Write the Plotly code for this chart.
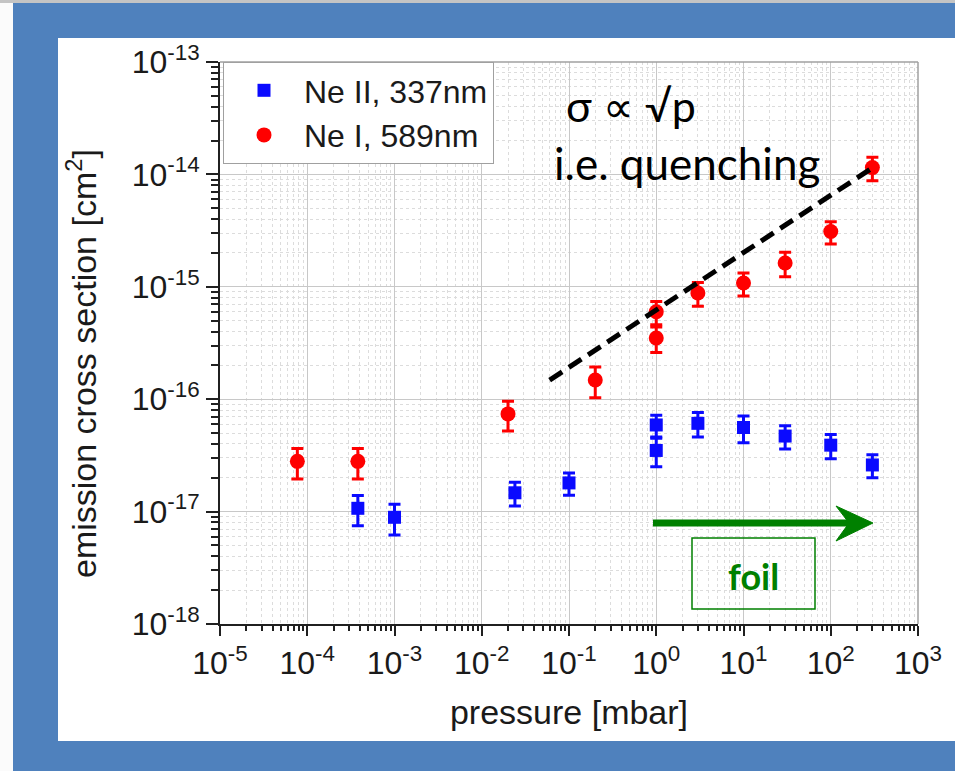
import plotly.graph_objects as go

# ---------------- data ----------------
p_ne2 = [3.8e-4, 1.0e-3, 0.024, 0.1, 1.0, 1.0, 3.0, 10.0, 30.0, 100.0, 300.0]
s_ne2 = [1.07e-17, 8.9e-18, 1.47e-17, 1.8e-17, 5.9e-17, 3.5e-17, 6.1e-17, 5.6e-17, 4.7e-17, 3.9e-17, 2.6e-17]
e_ne2 = [3.2e-18, 2.7e-18, 3.5e-18, 4.0e-18, 1.3e-17, 1.0e-17, 1.5e-17, 1.5e-17, 1.1e-17, 0.95e-17, 0.6e-17]

p_ne1 = [7.7e-5, 3.8e-4, 0.02, 0.2, 1.0, 1.0, 3.0, 10.0, 30.0, 100.0, 300.0]
s_ne1 = [2.8e-17, 2.8e-17, 7.4e-17, 1.48e-16, 6.0e-16, 3.5e-16, 8.8e-16, 1.08e-15, 1.63e-15, 3.1e-15, 1.15e-14]
e_ne1 = [0.85e-17, 0.85e-17, 2.2e-17, 4.5e-17, 1.4e-16, 0.9e-16, 2.1e-16, 2.5e-16, 4.0e-16, 7.0e-16, 2.7e-15]

fit_p = [0.06, 330.0]
fit_s = [1.48e-16, 1.2e-14]

x_ticks = [1e-5, 1e-4, 1e-3, 1e-2, 1e-1, 1e0, 1e1, 1e2, 1e3]
x_ticklabels = ["10<sup>-5</sup>", "10<sup>-4</sup>", "10<sup>-3</sup>", "10<sup>-2</sup>",
                "10<sup>-1</sup>", "10<sup>0</sup>", "10<sup>1</sup>", "10<sup>2</sup>", "10<sup>3</sup>"]
y_ticks = [1e-18, 1e-17, 1e-16, 1e-15, 1e-14, 1e-13]
y_ticklabels = ["10<sup>-18</sup>", "10<sup>-17</sup>", "10<sup>-16</sup>",
                "10<sup>-15</sup>", "10<sup>-14</sup>", "10<sup>-13</sup>"]

# ---------------- layout geometry (pixels) ----------------
W, H = 955, 771
L, R, T, B = 220, 918, 62, 624
PW, PH = R - L, B - T


def px(x):
    return (x - L) / PW


def py(y):
    return (B - y) / PH


BLUE_BG = "#4f81bd"
FONT = "Liberation Sans, Arial, sans-serif"
CAL = "Lato, Carlito, sans-serif"

fig = go.Figure()

fig.add_trace(go.Scatter(
    x=p_ne2, y=s_ne2, mode="markers", name="Ne II, 337nm",
    marker=dict(symbol="square", size=13, color="#0a0aff"),
    error_y=dict(type="data", array=e_ne2, color="#0a0aff", thickness=3, width=6),
))
fig.add_trace(go.Scatter(
    x=p_ne1, y=s_ne1, mode="markers", name="Ne I, 589nm",
    marker=dict(symbol="circle", size=15, color="#ff0000"),
    error_y=dict(type="data", array=e_ne1, color="#ff0000", thickness=3, width=6),
))
fig.add_trace(go.Scatter(
    x=fit_p, y=fit_s, mode="lines", showlegend=False, hoverinfo="skip",
    line=dict(color="black", width=5, dash="15px,8px"),
))

shapes = [
    # white panel on blue background
    dict(type="rect", xref="paper", yref="paper", layer="below",
         x0=px(58), x1=px(970), y0=py(741), y1=py(38),
         fillcolor="white", line=dict(width=0)),
    # top grey strip
    dict(type="rect", xref="paper", yref="paper", layer="below",
         x0=px(-20), x1=px(980), y0=py(3), y1=py(-20),
         fillcolor="#c4c4c4", line=dict(width=0)),
    # left light strip
    dict(type="rect", xref="paper", yref="paper", layer="below",
         x0=px(-20), x1=px(13), y0=py(790), y1=py(3),
         fillcolor="#fbfbfb", line=dict(width=0)),
    # grey top / right frame of plot
    dict(type="line", xref="paper", yref="paper", x0=0, x1=1, y0=1, y1=1,
         line=dict(color="#a0a0a0", width=1.5)),
    dict(type="line", xref="paper", yref="paper", x0=1, x1=1, y0=0, y1=1,
         line=dict(color="#a0a0a0", width=1.5)),
    # foil box
    dict(type="rect", xref="paper", yref="paper",
         x0=px(692), x1=px(815), y0=py(609), y1=py(538),
         line=dict(color="#008000", width=1.5), fillcolor="rgba(0,0,0,0)"),
    # green arrow shaft
    dict(type="line", xref="paper", yref="paper",
         x0=px(653), x1=px(852), y0=py(523), y1=py(523),
         line=dict(color="#008000", width=7)),
    # green arrow head
    dict(type="path", xref="paper", yref="paper",
         path=(f"M {px(873)},{py(523)} L {px(836)},{py(506)} "
               f"L {px(849)},{py(523)} L {px(836)},{py(541)} Z"),
         fillcolor="#008000", line=dict(color="#008000", width=1)),
]

annotations = [
    dict(xref="paper", yref="paper", x=px(564), y=py(106), xanchor="left", yanchor="middle",
         text="σ ∝ √p", showarrow=False,
         font=dict(family=CAL, size=43, color="black")),
    dict(xref="paper", yref="paper", x=px(552), y=py(163), xanchor="left", yanchor="middle",
         text="i.e. quenching", showarrow=False,
         font=dict(family=CAL, size=44, color="black")),
    dict(xref="paper", yref="paper", x=px(753), y=py(576), xanchor="center", yanchor="middle",
         text="<b>foil</b>", showarrow=False,
         font=dict(family=CAL, size=36, color="#008000")),
    # y-axis title
    dict(xref="paper", yref="paper", x=px(82), y=py(364), xanchor="center", yanchor="middle",
         text="emission cross section [cm<sup>2</sup>]", textangle=-90, showarrow=False,
         font=dict(family=FONT, size=34, color="#1a1a1a")),
]

axis_common = dict(
    type="log", showline=True, linecolor="#202020", linewidth=2,
    ticks="outside", tickcolor="#202020", tickwidth=1.5,
    showgrid=True, gridcolor="#c8c8c8", gridwidth=1.2,
    tickfont=dict(family=FONT, size=32, color="#1a1a1a"),
    zeroline=False,
)

fig.update_layout(
    width=W, height=H,
    margin=dict(l=L, r=W - R, t=T, b=H - B, autoexpand=False),
    paper_bgcolor=BLUE_BG, plot_bgcolor="white",
    shapes=shapes, annotations=annotations,
    showlegend=True,
    legend=dict(x=px(223), y=1, xanchor="left", yanchor="top",
                bgcolor="white", bordercolor="#a0a0a0", borderwidth=1,
                font=dict(family=FONT, size=32, color="#1a1a1a"),
                itemwidth=70, tracegroupgap=0),
    xaxis=dict(axis_common, range=[-5, 3], tickvals=x_ticks, ticktext=x_ticklabels,
               ticklen=10,
               minor=dict(dtick="D1", ticks="outside", ticklen=5, tickcolor="#202020",
                          showgrid=True, gridcolor="#dcdcdc", griddash="dot", gridwidth=1),
               title=dict(text="pressure [mbar]", standoff=20,
                          font=dict(family=FONT, size=34, color="#1a1a1a"))),
    yaxis=dict(axis_common, range=[-18, -13], tickvals=y_ticks, ticktext=y_ticklabels,
               ticklen=12,
               minor=dict(dtick="D1", ticks="outside", ticklen=7, tickcolor="#202020",
                          showgrid=True, gridcolor="#dcdcdc", griddash="dot", gridwidth=1)),
)

fig.write_html("out.html")
